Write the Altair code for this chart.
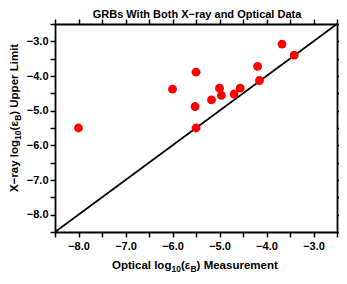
import altair as alt
import pandas as pd

# ---- data ----
optical = [-8.0, -6.0, -5.5, -5.52, -5.5, -5.17, -5.0, -4.96, -4.69, -4.56, -4.19, -4.15, -3.67, -3.41]
xray = [-5.5, -4.38, -3.89, -4.88, -5.5, -4.69, -4.35, -4.56, -4.52, -4.35, -3.72, -4.13, -3.08, -3.40]
diag = [-8.5, -2.5]
tick_values = [-8.5, -8.0, -7.5, -7.0, -6.5, -6.0, -5.5, -5.0, -4.5, -4.0, -3.5, -3.0, -2.5]
domain = [-8.5, -2.5]

title_text = "GRBs With Both X\u2212ray and Optical Data"
xtitle_parts = [("Optical log", False), ("10", True), ("(\u03b5", False), ("B", True), (") Measurement", False)]
ytitle_parts = [("X\u2212ray log", False), ("10", True), ("(\u03b5", False), ("B", True), (") Upper Limit", False)]

FONT = "Liberation Sans"
W, H = 282, 208
MAIN, SUB = 11.5, 8.5

AW = {'O': .778, 'p': .611, 't': .333, 'i': .278, 'c': .556, 'a': .556, 'l': .278, ' ': .278,
      'o': .611, 'g': .611, '(': .333, ')': .333, 'M': .833, 'e': .556, 's': .556, 'u': .611,
      'r': .389, 'm': .889, 'n': .611, '1': .556, '0': .556, 'B': .722, '\u03b5': .5, 'X': .667,
      '\u2212': .584, 'y': .556, 'U': .722, 'L': .611}


def tw(s, size):
    return sum(AW.get(c, .556) for c in s) * size


pts = pd.DataFrame({"optical": optical, "xray": xray})
line_df = pd.DataFrame({"optical": diag, "xray": diag})
one = pd.DataFrame({"k": [0]})

label_expr = "datum.value % 1 == 0 ? format(datum.value, '.1f') : ''"

common_axis = dict(values=tick_values, grid=False, domainColor="black", domainWidth=1.8,
                   tickColor="black", tickWidth=1.5, tickSize=5, title=None)

xs = alt.Scale(domain=domain, nice=False, zero=False)
ys = alt.Scale(domain=domain, nice=False, zero=False)

points = alt.Chart(pts).mark_circle(size=78, color="#ff0000", opacity=1).encode(
    x=alt.X("optical:Q", scale=xs, axis=alt.Axis(orient="bottom", labelExpr=label_expr,
            labelFont=FONT, labelFontSize=11, labelFontWeight="bold", labelColor="black",
            labelPadding=3, labelFlush=False, labelOverlap=False, **common_axis)),
    y=alt.Y("xray:Q", scale=ys, axis=alt.Axis(orient="left", labelExpr=label_expr,
            labelFont=FONT, labelFontSize=11, labelFontWeight="bold", labelColor="black",
            labelPadding=2, labelFlush=False, labelOverlap=False, **common_axis)),
)

diag_line = alt.Chart(line_df).mark_line(color="black", strokeWidth=1.7).encode(
    x=alt.X("optical:Q", scale=xs, axis=alt.Axis(orient="top", labels=False, **common_axis)),
    y=alt.Y("xray:Q", scale=ys, axis=alt.Axis(orient="right", labels=False, **common_axis)),
)

layers = [diag_line, points]

# chart title
layers.append(alt.Chart(one).mark_text(text=title_text, font=FONT, fontSize=11, fontWeight="bold",
                                       color="black", align="center", baseline="alphabetic").encode(
    x=alt.value(W / 2 + 1), y=alt.value(-6.5)))

# x axis title (with subscripts)
x0 = 57
xb = 245
off = 0.0
for txt, sub in xtitle_parts:
    size = SUB if sub else MAIN
    layers.append(alt.Chart(one).mark_text(text=txt, font=FONT, fontSize=size, fontWeight="bold",
                                           color="black", align="left", baseline="alphabetic",
                                           dy=3 if sub else 0).encode(
        x=alt.value(x0 + off), y=alt.value(xb)))
    off += tw(txt, size)

# y axis title (rotated, with subscripts)
yb = -37
y0 = 168
off = 0.0
for txt, sub in ytitle_parts:
    size = SUB if sub else MAIN
    layers.append(alt.Chart(one).mark_text(text=txt, font=FONT, fontSize=size, fontWeight="bold",
                                           color="black", align="left", baseline="alphabetic",
                                           angle=270, dy=3 if sub else 0).encode(
        x=alt.value(yb), y=alt.value(y0 - off)))
    off += tw(txt, size)

chart = alt.layer(*layers).resolve_scale(x="shared", y="shared").properties(
    width=W, height=H,
    autosize=alt.AutoSizeParams(type="none"),
    padding={"left": 47, "top": 16, "right": 2, "bottom": 44},
).configure_view(strokeOpacity=0).configure(background="white")

chart.save("out.html", embed_options={"renderer": "svg", "actions": False})
